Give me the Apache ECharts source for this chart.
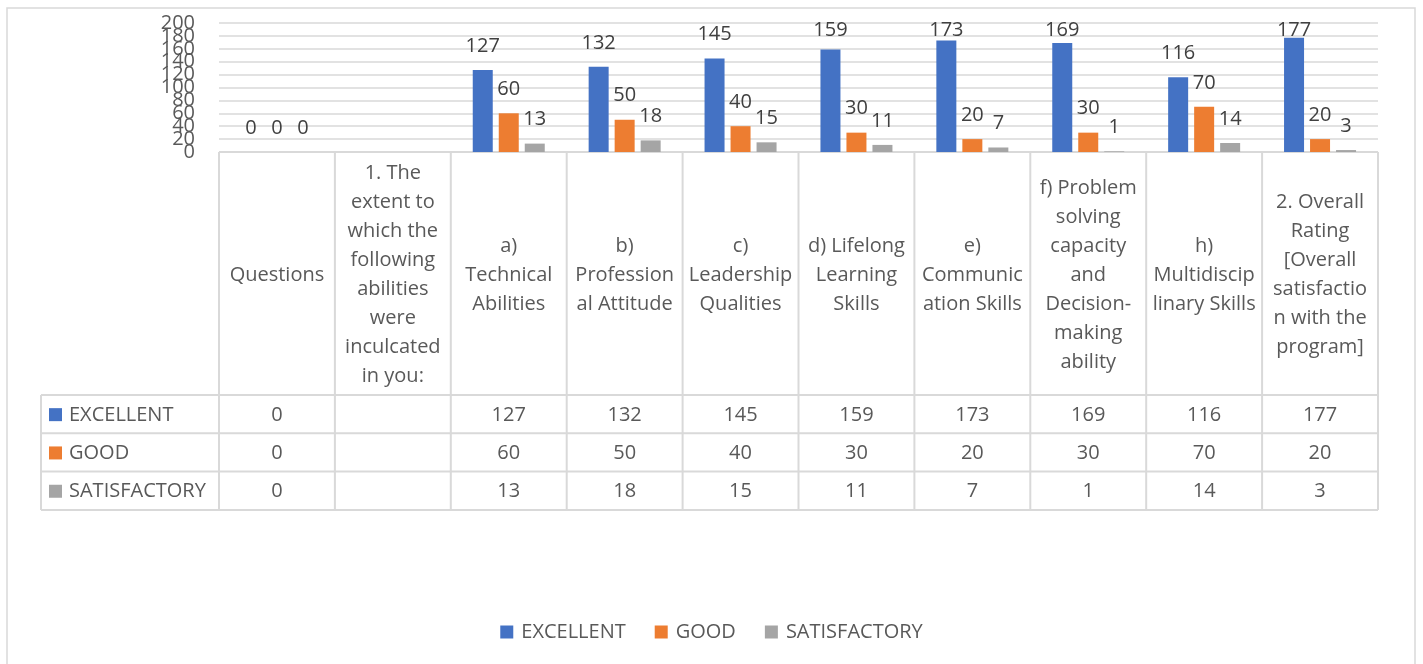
<!DOCTYPE html>
<html>
<head>
<meta charset="utf-8">
<title>Abilities rating</title>
<script src="https://cdn.jsdelivr.net/npm/echarts@6/dist/echarts.min.js"></script>
<style>
  html, body { margin: 0; padding: 0; background: #fff; }
  #main { width: 1423px; height: 664px; }
</style>
</head>
<body>
<div id="main"></div>
<script>
var categories = [
    'Questions',
    '1. The\nextent to\nwhich the\nfollowing\nabilities\nwere\ninculcated\nin you:',
    'a)\nTechnical\nAbilities',
    'b)\nProfession\nal Attitude',
    'c)\nLeadership\nQualities',
    'd) Lifelong\nLearning\nSkills',
    'e)\nCommunic\nation Skills',
    'f) Problem\nsolving\ncapacity\nand\nDecision-\nmaking\nability',
    'h)\nMultidiscip\nlinary Skills',
    '2. Overall\nRating\n[Overall\nsatisfactio\nn with the\nprogram]'
];
var seriesNames = ['EXCELLENT', 'GOOD', 'SATISFACTORY'];
var excellent = [0, null, 127, 132, 145, 159, 173, 169, 116, 177];
var good = [0, null, 60, 50, 40, 30, 20, 30, 70, 20];
var satisfactory = [0, null, 13, 18, 15, 11, 7, 1, 14, 3];
var yTickLabels = [0, 20, 40, 60, 80, 100, 120, 140, 160, 180, 200];

var colors = ['#4472C4', '#ED7D31', '#A5A5A5'];
var textColor = '#595959';
var lineColor = '#d9d9d9';
var font = 'Open Sans';
var labelDistance = 14;
var labelMinCenter = 29.5;   // labels stay inside the plot like the original

var dom = document.getElementById('main');
var chart = echarts.init(dom, null, { renderer: 'canvas' });

function barSeries(name, data, color) {
    return {
        name: name,
        type: 'bar',
        data: data,
        barWidth: 20,
        barGap: '30%',
        itemStyle: { color: color },
        label: {
            show: true,
            position: 'top',
            distance: labelDistance,
            color: '#404040',
            fontFamily: font,
            fontSize: 20
        }
    };
}

var option = {
    animation: false,
    color: colors,
    grid: {
        left: 219,
        right: 45,
        top: 23,
        bottom: 512,
        outerBoundsMode: 'none'
    },
    legend: {
        data: seriesNames,
        left: 'center',
        top: 617,
        icon: 'rect',
        itemWidth: 13,
        itemHeight: 13,
        itemGap: 29,
        textStyle: { color: textColor, fontFamily: font, fontSize: 20, padding: [0, 0, 0, 3] }
    },
    xAxis: {
        type: 'category',
        data: categories,
        axisLine: { show: false },
        axisTick: { show: false },
        axisLabel: {
            interval: 0,
            margin: 123,
            verticalAlign: 'middle',
            lineHeight: 29,
            color: textColor,
            fontFamily: font,
            fontSize: 20
        }
    },
    yAxis: {
        type: 'value',
        min: yTickLabels[0],
        max: yTickLabels[yTickLabels.length - 1],
        interval: yTickLabels[1] - yTickLabels[0],
        axisLine: { show: false },
        axisTick: { show: false },
        // tick labels overlap in the original; drawn below so none get hidden
        axisLabel: { show: false },
        splitLine: { lineStyle: { color: lineColor, width: 1.5 } }
    },
    series: [
        barSeries(seriesNames[0], excellent, colors[0]),
        barSeries(seriesNames[1], good, colors[1]),
        barSeries(seriesNames[2], satisfactory, colors[2])
    ]
};

chart.setOption(option);

// pull down labels that would leave the plot area
function clampLabels() {
    var all = [excellent, good, satisfactory];
    var series = all.map(function (arr) {
        return {
            data: arr.map(function (v) {
                if (v === null) return v;
                var top = chart.convertToPixel({ yAxisIndex: 0 }, v);
                var d = Math.min(labelDistance, top - labelMinCenter - 11);
                return { value: v, label: { distance: d } };
            })
        };
    });
    chart.setOption({ series: series });
}

// y tick labels + data table under the plot, aligned with the axes
function buildTable() {
    var values = [excellent, good, satisfactory];
    var x0 = chart.convertToPixel({ xAxisIndex: 0 }, 0);
    var x1 = chart.convertToPixel({ xAxisIndex: 0 }, 1);
    var band = x1 - x0;
    var axisY = chart.convertToPixel({ yAxisIndex: 0 }, 0);
    var plotLeft = x0 - band / 2;
    var plotRight = plotLeft + band * categories.length;
    var tableLeft = 41;
    var headerBottom = 395;
    var rowH = 38.3;
    var tableBottom = headerBottom + rowH * values.length;
    var els = [];
    var ls = { stroke: lineColor, lineWidth: 2 };
    var f = '20px "' + font + '"';

    els.push({ type: 'rect', shape: { x: 7, y: 8, width: 1408, height: 700 },
        style: { fill: 'none', stroke: lineColor, lineWidth: 1.5 }, silent: true });

    yTickLabels.forEach(function (t) {
        els.push({ type: 'text', x: plotLeft - 24, y: chart.convertToPixel({ yAxisIndex: 0 }, t),
            style: { text: String(t), fill: textColor, font: f,
                textAlign: 'right', textVerticalAlign: 'middle' } });
    });

    // horizontal lines
    els.push({ type: 'line', shape: { x1: plotLeft, y1: axisY, x2: plotRight, y2: axisY }, style: ls });
    for (var r = 0; r <= values.length; r++) {
        var y = headerBottom + rowH * r;
        els.push({ type: 'line', shape: { x1: tableLeft, y1: y, x2: plotRight, y2: y }, style: ls });
    }
    // vertical lines
    els.push({ type: 'line', shape: { x1: tableLeft, y1: headerBottom, x2: tableLeft, y2: tableBottom }, style: ls });
    for (var c = 0; c <= categories.length; c++) {
        var x = plotLeft + band * c;
        els.push({ type: 'line', shape: { x1: x, y1: axisY, x2: x, y2: tableBottom }, style: ls });
    }
    // row headers and values
    for (var s = 0; s < values.length; s++) {
        var cy = headerBottom + rowH * s + rowH / 2 + 1;
        els.push({ type: 'rect', shape: { x: 49, y: cy - 7, width: 13, height: 13 },
            style: { fill: colors[s] } });
        els.push({ type: 'text', x: 69, y: cy,
            style: { text: seriesNames[s], fill: textColor, font: f,
                textAlign: 'left', textVerticalAlign: 'middle' } });
        for (var i = 0; i < categories.length; i++) {
            var v = values[s][i];
            if (v === null) continue;
            els.push({ type: 'text', x: chart.convertToPixel({ xAxisIndex: 0 }, i), y: cy,
                style: { text: String(v), fill: textColor, font: f,
                    textAlign: 'center', textVerticalAlign: 'middle' } });
        }
    }
    chart.setOption({ graphic: { elements: els } });
}
clampLabels();
buildTable();
</script>
</body>
</html>
